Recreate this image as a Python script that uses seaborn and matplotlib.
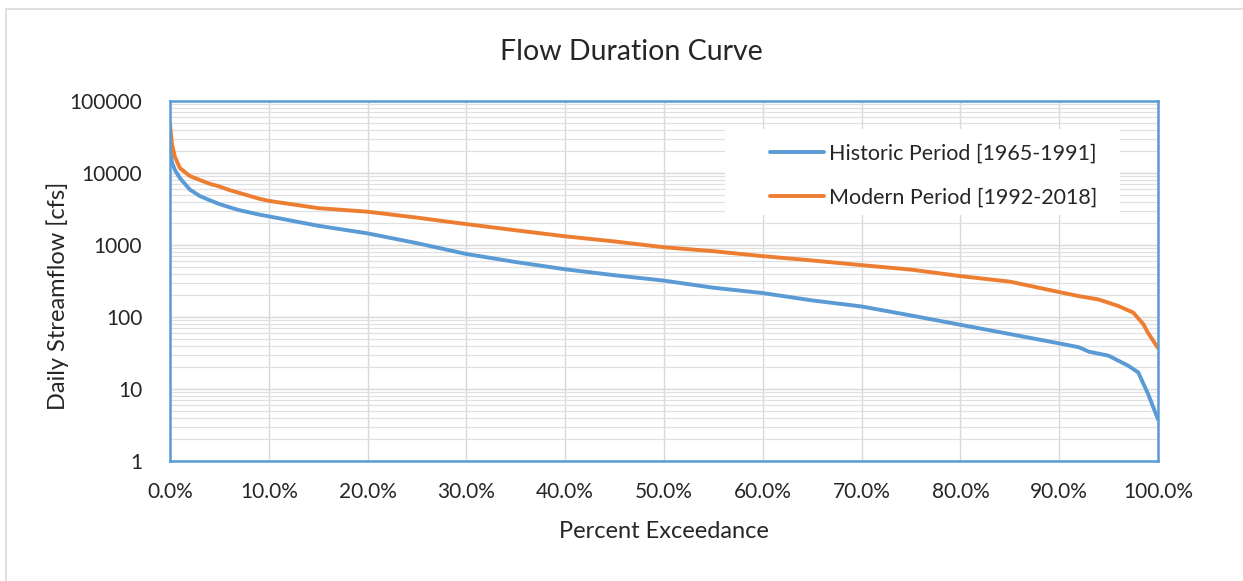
import matplotlib
matplotlib.use("Agg")
import matplotlib.pyplot as plt
import matplotlib.ticker as mticker
from matplotlib.patches import Rectangle
import numpy as np
import pandas as pd
import seaborn as sns

# Data
historic_pct = [0, 0.2, 0.5, 1, 2, 3, 4, 5, 6, 7, 9, 10, 15, 20, 25, 30, 35, 40, 45, 50,
                55, 60, 65, 70, 75, 80, 85, 90, 92, 93, 95, 97, 98, 99, 100]
historic_flow = [21000, 14000, 11000, 8500, 5900, 4800, 4200, 3700, 3350, 3050, 2650, 2500,
                 1850, 1450, 1060, 750, 580, 460, 380, 320, 255, 215, 170, 140, 105, 78,
                 58, 43, 38, 33, 29, 21, 17, 8.5, 3.8]

modern_pct = [0, 0.2, 0.5, 1, 2, 3, 4, 5, 6, 7, 9, 10, 15, 20, 25, 30, 35, 40, 45, 50, 55,
              60, 65, 70, 75, 80, 85, 90, 92, 94, 96, 97.5, 98.5, 99, 100]
modern_flow = [48000, 25000, 16700, 11700, 9100, 8000, 7100, 6500, 5800, 5300, 4400, 4100,
               3250, 2900, 2400, 1950, 1600, 1320, 1120, 930, 820, 700, 610, 525, 455, 370,
               310, 222, 195, 175, 142, 115, 80, 60, 37]

labels = ["Historic Period [1965-1991]", "Modern Period [1992-2018]"]

df = pd.concat([
    pd.DataFrame({"pct": historic_pct, "flow": historic_flow, "period": labels[0]}),
    pd.DataFrame({"pct": modern_pct, "flow": modern_flow, "period": labels[1]}),
])

sns.set_style("white")
plt.rcParams['font.family'] = ['Lato', 'DejaVu Sans']

fig = plt.figure(figsize=(12.43, 5.81), dpi=100)
ax = fig.add_axes([170 / 1243, 1 - 461 / 581, 988 / 1243, 360 / 581])

# outer chart border (only left/top visible)
fig.add_artist(Rectangle((6 / 1243, -0.1), 1.2, (1 - 9 / 581) + 0.1,
                         transform=fig.transFigure, fill=False,
                         edgecolor="#D9D9D9", linewidth=1.2, clip_on=False))

sns.lineplot(data=df, x="pct", y="flow", hue="period", ax=ax,
             palette=["#5B9BD5", "#ED7D31"], linewidth=2.8, sort=False)

ax.set_yscale("log")
ax.set_ylim(1, 100000)
ax.set_xlim(0, 100)

ax.xaxis.set_major_locator(mticker.MultipleLocator(10))
ax.xaxis.set_minor_locator(mticker.MultipleLocator(5))
ax.xaxis.set_major_formatter(mticker.FuncFormatter(lambda v, p: f"{v:.1f}%"))
ax.yaxis.set_major_locator(mticker.LogLocator(base=10, numticks=10))
ax.yaxis.set_minor_locator(mticker.LogLocator(base=10, subs=np.arange(2, 10), numticks=20))
ax.yaxis.set_major_formatter(mticker.FuncFormatter(lambda v, p: f"{v:.0f}"))
ax.yaxis.set_minor_formatter(mticker.NullFormatter())

ax.grid(True, which="major", axis="both", color="#D9D9D9", linewidth=1.0)
ax.grid(True, which="minor", axis="y", color="#E0E0E0", linewidth=0.9)
ax.set_axisbelow(True)

for s in ax.spines.values():
    s.set_color("#5B9BD5")
    s.set_linewidth(1.8)

ax.tick_params(which="major", direction="out", length=6, color="#808080", width=1,
               labelsize=15, labelcolor="#262626")
ax.tick_params(which="minor", direction="inout", length=8, color="#808080", width=0.8)
ax.tick_params(axis="x", which="major", pad=9)
ax.tick_params(axis="y", which="major", pad=14)
ax.set_xlabel("")
ax.set_ylabel("")

fig.text(664 / 1243, 1 - 532 / 581, "Percent Exceedance", ha="center", va="center",
         fontsize=17, color="#262626")
fig.text(58 / 1243, 1 - 296 / 581, "Daily Streamflow [cfs]", ha="center", va="center",
         rotation=90, fontsize=17, color="#262626")
fig.text(631 / 1243, 1 - 52 / 581, "Flow Duration Curve", ha="center", va="center",
         fontsize=20.5, color="#262626")

# white legend box (covers gridlines) like the reference
ax.add_patch(Rectangle(((725 - 170) / 988, (461 - 215) / 360), (1120 - 725) / 988,
                       (215 - 129) / 360, transform=ax.transAxes, facecolor="white",
                       edgecolor="none", zorder=1.5))
leg = ax.legend(loc="upper left", bbox_to_anchor=((770 - 170) / 988, (461 - 144) / 360),
                frameon=False, fontsize=15.5, handlelength=2.5, handletextpad=0.25,
                labelspacing=1.08, borderpad=0, borderaxespad=0, title=None)
for t in leg.get_texts():
    t.set_color("#262626")

fig.savefig("out.png", dpi=100, facecolor="white")
